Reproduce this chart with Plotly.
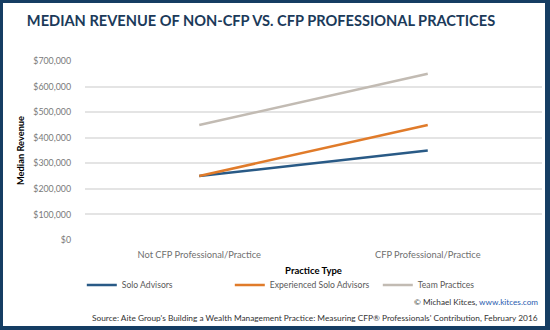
import plotly.graph_objects as go

categories = ["Not CFP Professional/Practice", "CFP Professional/Practice"]
solo = [250000, 350000]
experienced = [250000, 450000]
team = [450000, 650000]
series_names = ["Solo Advisors", "Experienced Solo Advisors", "Team Practices"]
colors = ["#295a86", "#e07b2a", "#c2bbb3"]
tick_vals = [0, 100000, 200000, 300000, 400000, 500000, 600000, 700000]
tick_text = ["$0", "$100,000", "$200,000", "$300,000", "$400,000", "$500,000", "$600,000", "$700,000"]

W, H = 550, 330
L, R, T, B = 85, 8, 61, 90
PW, PH = W - L - R, H - T - B

def px(x):
    return (x - L) / PW

def py(y):
    return (H - B - y) / PH

fig = go.Figure()
for name, vals, c in zip(series_names, [solo, experienced, team], colors):
    fig.add_trace(go.Scatter(x=categories, y=vals, mode="lines", name=name,
                             line=dict(color=c, width=2.5)))

navy = "#153d63"
shapes = []
for (x0, y0, x1, y1) in [(0, 0, 550, 3), (0, 0, 3, 330), (545, 0, 550, 330), (0, 326, 550, 330)]:
    shapes.append(dict(type="rect", xref="paper", yref="paper",
                       x0=px(x0), x1=px(x1), y0=py(y1), y1=py(y0),
                       fillcolor=navy, line=dict(width=0), layer="above"))

fig.update_layout(
    width=W, height=H,
    margin=dict(l=L, r=R, t=T, b=B),
    paper_bgcolor="white", plot_bgcolor="white",
    font=dict(family="Lato, sans-serif", color="#595959"),
    title=dict(text="<b>MEDIAN REVENUE OF NON-CFP VS. CFP PROFESSIONAL PRACTICES</b>",
               x=px(261), xref="paper", xanchor="center", y=1 - 21 / H, yanchor="middle",
               font=dict(family="Lato, sans-serif", size=14.6, color="#1b3a5a")),
    xaxis=dict(type="category", range=[-0.5, 1.5], showgrid=False, zeroline=False,
               showline=False, ticks="", ticklabelstandoff=8,
               tickfont=dict(size=9.3, color="#6f6f6f"),
               title=dict(text="<b>Practice Type</b>", font=dict(size=9.5, color="#000000"), standoff=8)),
    yaxis=dict(range=[0, 700000], tickvals=tick_vals, ticktext=tick_text,
               showgrid=True, gridcolor="#e4e4e4", gridwidth=1.5, zeroline=False,
               showline=False, ticks="", ticklabelstandoff=13,
               tickfont=dict(size=8.8, color="#7a7a7a"),
               title=dict(text="<b>Median Revenue</b>", font=dict(size=9.3, color="#000000"), standoff=7)),
    showlegend=True,
    legend=dict(orientation="h", x=-0.007, xanchor="left", y=py(285), yanchor="middle",
                font=dict(size=8.6, color="#595959"), entrywidth=103, itemwidth=30,
                bgcolor="rgba(0,0,0,0)"),
    shapes=shapes,
    annotations=[
        dict(text="© Michael Kitces, <a href='http://www.kitces.com' style='color:#2a5db0'>www.kitces.com</a>",
             xref="paper", yref="paper", x=px(540), y=py(302), xanchor="right", yanchor="middle",
             showarrow=False, font=dict(size=8.2, color="#333333")),
        dict(text="Source: Aite Group's Building a Wealth Management Practice: Measuring CFP® Professionals' Contribution, February 2016",
             xref="paper", yref="paper", x=px(540), y=py(318), xanchor="right", yanchor="middle",
             showarrow=False, font=dict(size=8.3, color="#333333")),
    ],
)

fig.write_html("out.html")
